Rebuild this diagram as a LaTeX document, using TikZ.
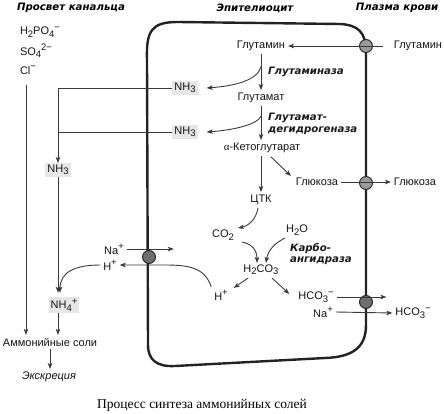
\documentclass[tikz,border=0pt]{standalone}
\usepackage{fontspec}
\setmainfont{Liberation Sans}
\newfontfamily\seriffont{Liberation Serif}
\newfontfamily\hdrfont{DejaVu Sans}
\usetikzlibrary{arrows.meta,calc}
\newcommand\mylo[1]{\raisebox{-0.4ex}{\fontsize{9.5}{10}\selectfont #1}}
\newcommand\myhi[1]{\raisebox{0.8ex}{\fontsize{9.5}{10}\selectfont #1}}
\definecolor{linec}{HTML}{3A3A3A}
\definecolor{cellc}{HTML}{222222}
\definecolor{boxgray}{HTML}{E6E6E6}
\definecolor{pumpL}{HTML}{9A9A9A}
\definecolor{pumpD}{HTML}{6E6E6E}
\begin{document}
\begin{tikzpicture}[x=1pt,y=-1pt,
  txt/.style={font=\fontsize{11}{12}\selectfont, inner sep=1.5pt, outer sep=1.5pt, text=black!92},
  box/.style={txt, fill=boxgray, inner sep=2pt, outer sep=0pt},
  enz/.style={font=\hdrfont\fontsize{10.2}{11.5}\selectfont\bfseries\itshape, anchor=west, inner sep=0pt, align=left, text=black!90},
  hdr/.style={font=\hdrfont\fontsize{10.2}{13}\selectfont\bfseries\itshape, inner sep=0pt},
  ar/.style={draw=linec, line width=0.9pt, -{Stealth[length=6pt,width=4.5pt,inset=1.5pt]}},
  ln/.style={draw=linec, line width=0.9pt},
  cell/.style={draw=cellc, line width=2.4pt, line join=round},
  pumpl/.style={circle, draw=cellc, line width=0.9pt, fill=pumpL, minimum size=13pt, inner sep=0pt},
  pumpd/.style={circle, draw=cellc, line width=0.9pt, fill=pumpD, minimum size=13pt, inner sep=0pt}]
\useasboundingbox (0,0) rectangle (444,414);

% headers
\node[hdr] (hL) at (71,8) {Просвет канальца};
\node[hdr] (hE) at (255,8) {Эпителиоцит};
\node[hdr] (hP) at (397,8) {Плазма крови};

% cell outline
\draw[cell] (147,60) .. controls (146,30) and (152,22) .. (178,22) -- (340,24)
  .. controls (358,25) and (366,32) .. (366,52) -- (366,325)
  .. controls (366,348) and (352,357) .. (325,358) -- (175,366)
  .. controls (157,367) and (148,360) .. (148,345) -- cycle;

% pumps
\node[pumpl] (c1) at (366,46) {};
\node[pumpl] (c2) at (366,183) {};
\node[pumpd] (c3) at (366,302) {};
\node[pumpd] (c4) at (149,257) {};

% lumen ions
\node[txt, anchor=west] (ion1) at (17,32) {H\mylo{2}PO\mylo{4}\myhi{−}};
\node[txt, anchor=west] (ion2) at (17,51) {SO\mylo{4}\myhi{2−}};
\node[txt, anchor=west] (ion3) at (17,70) {Cl\myhi{−}};
\coordinate (lt) at (26,85);

% nodes in cell
\node[txt] (glnIn) at (261,46) {Глутамин};
\node[txt] (glnOut) at (418,46) {Глутамин};
\node[txt] (glut) at (261,98) {Глутамат};
\node[txt] (akg) at (262,148) {{\seriffont α}-Кетоглутарат};
\node[enz] (enz1) at (268,72) {Глутаминаза};
\node[enz] (enz2) at (268,124) {Глутамат-\\дегидрогеназа};
\node[txt] (tca) at (261,200) {ЦТК};
\node[txt] (glcIn) at (317,182) {Глюкоза};
\node[txt] (glcOut) at (415,182) {Глюкоза};
\node[txt] (co2) at (223,235) {CO\mylo{2}};
\node[txt] (h2o) at (297,230) {H\mylo{2}O};
\node[txt] (h2co3) at (261,270) {H\mylo{2}CO\mylo{3}};
\node[enz] (enz3) at (290,254) {Карбо-\\ангидраза};
\node[txt] (hIn) at (221,295) {H\myhi{+}};
\node[txt] (hco3) at (316,297) {HCO\mylo{3}\myhi{−}};
\node[txt] (naIn) at (323,312) {Na\myhi{+}};
\node[txt] (hco3Out) at (413,313) {HCO\mylo{3}\myhi{−}};
\node[txt] (naOut) at (114,249) {Na\myhi{+}};
\node[txt] (hOut) at (110,265) {H\myhi{+}};

% lumen boxes
\node[box] (NH3a) at (185,88) {NH\mylo{3}};
\node[box] (NH3b) at (185,132) {NH\mylo{3}};
\node[box] (NH3c) at (58,170) {NH\mylo{3}};
\node[box] (NH4) at (64,305) {NH\mylo{4}\myhi{+}};
\node[txt] (salts) at (50,342) {Аммонийные соли};
\node[txt, font=\fontsize{11}{12}\selectfont\itshape] (excr) at (49,377) {Экскреция};

% caption
\node[font=\seriffont\fontsize{13.5}{15}\selectfont] (cap) at (202,405) {Процесс синтеза аммонийных солей};

% connectors: glutamine path
\draw[ar] ($(glnOut.west)+(-8,0)$) -- (glnIn.east);
\draw[ar] (glnIn) -- (glut);
\coordinate (b1) at ($(glnIn.south)!0.35!(glut.north)$);
\draw[ar] (b1) .. controls (258,80) and (235,86) .. ($(NH3a.east)+(9,0)$);
\draw[ar] (glut) -- (glut |- akg.north);
\coordinate (b2) at ($(glut.south)!0.3!(glut.south |- akg.north)$);
\draw[ar] (b2) .. controls (258,124) and (235,130) .. ($(NH3b.east)+(9,0)$);

% NH3 to lumen
\draw[ar] (NH3a.west) -| (NH3c.north);
\draw[ln] (NH3b.west) -- (NH3b.west -| NH3c.north);
\draw[ar, shorten >=4pt] (NH3c.south) -- (NH3c.south |- NH4.north);
\draw[ar] (NH3c.south |- NH4.south) -- (NH3c.south |- salts.north);
\draw[ar] (salts.south) -- (salts.south |- excr.north);
\draw[ar] (lt) -- (lt |- salts.north);

% keto / glucose
\draw[ar] (akg.south -| tca.north) -- (tca.north);
\draw[ar] ($(akg.south)+(9,1)$) -- ($(glcIn.west)+(-2,-6)$);
\draw[ar] (glcIn) -- (glcOut);

% carbonic
\draw[ar] ($(tca.south)+(-3,0)$) .. controls (256,220) and (248,226) .. ($(co2.north east)+(1,1)$);
\draw[ar] ($(co2.south east)+(5,-1)$) .. controls (252,244) and (257,250) .. ($(h2co3.north)+(-4,1)$);
\draw[ar] ($(h2o.south)+(-12,0)$) .. controls (275,243) and (268,250) .. ($(h2co3.north)+(5,1)$);
\draw[ar] ($(h2co3.south)+(-13,0)$) -- ($(hIn.north east)+(3,1)$);
\draw[ar] ($(h2co3.south)+(11,0)$) -- ($(hco3.west)+(-6,-3)$);

% H+ secretion
\draw[ar] (hIn.north west) .. controls (205,268) and (190,265) .. (165,265) -- (hOut.east);
\draw[ar] (naOut.east) -- ++(47,0);
\draw[ar, shorten >=4pt] (hOut.west) .. controls (75,265) and (60,272) .. ($(NH3c.south |- NH4.north)+(2,0)$);

% bicarbonate
\draw[ar] (hco3.east) -- ($(hco3.east -| hco3Out.west)+(-6,0)$);
\draw[ar] (naIn.east) -- (hco3Out.west);
\end{tikzpicture}
\end{document}
